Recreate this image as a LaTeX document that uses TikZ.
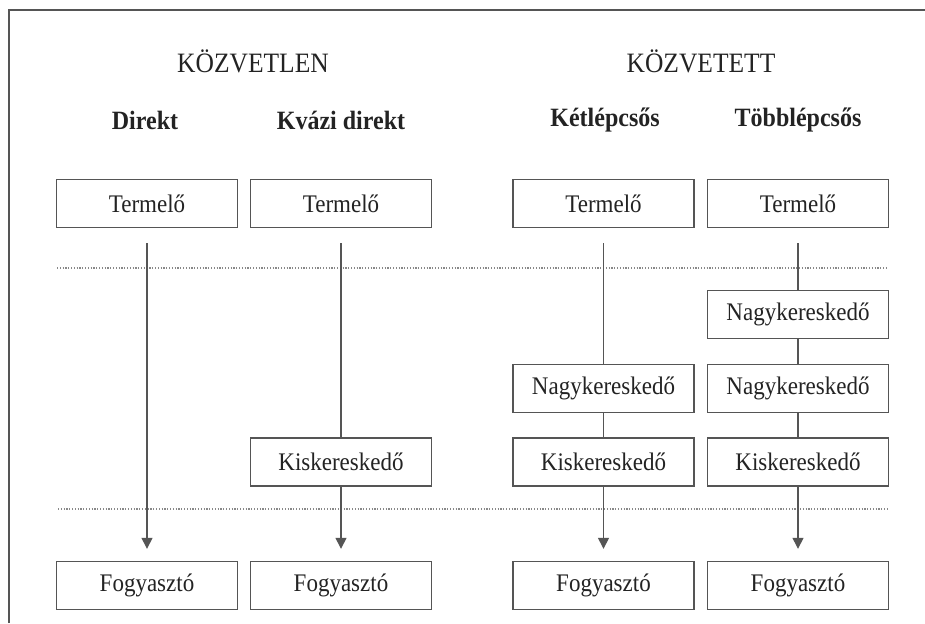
\documentclass[tikz,border=0pt]{standalone}
\usepackage{fontspec}
\usepackage{graphicx}
\setmainfont{Liberation Serif}
\usetikzlibrary{arrows.meta}
\definecolor{ln}{RGB}{85,85,85}
\definecolor{tx}{RGB}{35,35,35}
\newcommand{\vstr}[1]{\scalebox{1}[1.1]{#1}}
\begin{document}
\begin{tikzpicture}[x=1pt,y=-1pt,
  box/.style={draw=ln,line width=1.4pt,minimum width=181pt,minimum height=48pt,inner sep=0pt,
    font=\fontsize{23}{26}\selectfont,text=tx},
  ttl/.style={font=\fontsize{25.5}{28}\selectfont,text=tx},
  sub/.style={font=\fontsize{24}{27}\selectfont\bfseries,text=tx},
  conn/.style={draw=ln,line width=1.4pt},
  arr/.style={conn,-{Triangle[width=11pt,length=11pt]}},
  dots/.style={draw=ln!70,line width=1.2pt,dash pattern=on 1.2pt off 1.6pt}]
\useasboundingbox (0,0) rectangle (925,623);
\fill[white] (0,0) rectangle (925,623);
\draw[ln,line width=1.4pt] (9,623) -- (9,10) -- (925,10);
% titles
\node[ttl] (t1) at (253,61) {\vstr{KÖZVETLEN}};
\node[ttl] (t2) at (701,61) {\vstr{KÖZVETETT}};
\node[sub] (s1) at (145,120) {\vstr{Direkt}};
\node[sub] (s2) at (341,120) {\vstr{Kvázi direkt}};
\node[sub] (s3) at (605,120) {\vstr{Kétlépcsős}};
\node[sub] (s4) at (798,120) {\vstr{Többlépcsős}};
% boxes
\node[box] (p1) at (147,203.5) {\vstr{Termelő}};
\node[box] (p2) at (341,203.5) {\vstr{Termelő}};
\node[box] (p3) at (603.5,203.5) {\vstr{Termelő}};
\node[box] (p4) at (798,203.5) {\vstr{Termelő}};
\node[box] (n4a) at (798,314.5) {\vstr{Nagykereskedő}};
\node[box] (n3) at (603.5,388.5) {\vstr{Nagykereskedő}};
\node[box] (n4b) at (798,388.5) {\vstr{Nagykereskedő}};
\node[box] (k2) at (341,462) {\vstr{Kiskereskedő}};
\node[box] (k3) at (603.5,462) {\vstr{Kiskereskedő}};
\node[box] (k4) at (798,462) {\vstr{Kiskereskedő}};
\node[box] (f1) at (147,585.5) {\vstr{Fogyasztó}};
\node[box] (f2) at (341,585.5) {\vstr{Fogyasztó}};
\node[box] (f3) at (603.5,585.5) {\vstr{Fogyasztó}};
\node[box] (f4) at (798,585.5) {\vstr{Fogyasztó}};
% dotted separators
\coordinate (d1a) at (57,268); \coordinate (d1b) at (888,268);
\coordinate (d2a) at (58,509); \coordinate (d2b) at (887,509);
\draw[dots] (d1a) -- (d1b);
\draw[dots] (d2a) -- (d2b);
% connectors
\draw[arr,shorten <=15pt,shorten >=12pt] (p1) -- (f1);
\draw[conn,shorten <=15pt] (p2) -- (k2);
\draw[arr,shorten >=12pt] (k2) -- (f2);
\draw[conn,shorten <=15pt] (p3) -- (n3);
\draw[conn] (n3) -- (k3);
\draw[arr,shorten >=12pt] (k3) -- (f3);
\draw[conn,shorten <=15pt] (p4) -- (n4a);
\draw[conn] (n4a) -- (n4b);
\draw[conn] (n4b) -- (k4);
\draw[arr,shorten >=12pt] (k4) -- (f4);
\end{tikzpicture}
\end{document}
